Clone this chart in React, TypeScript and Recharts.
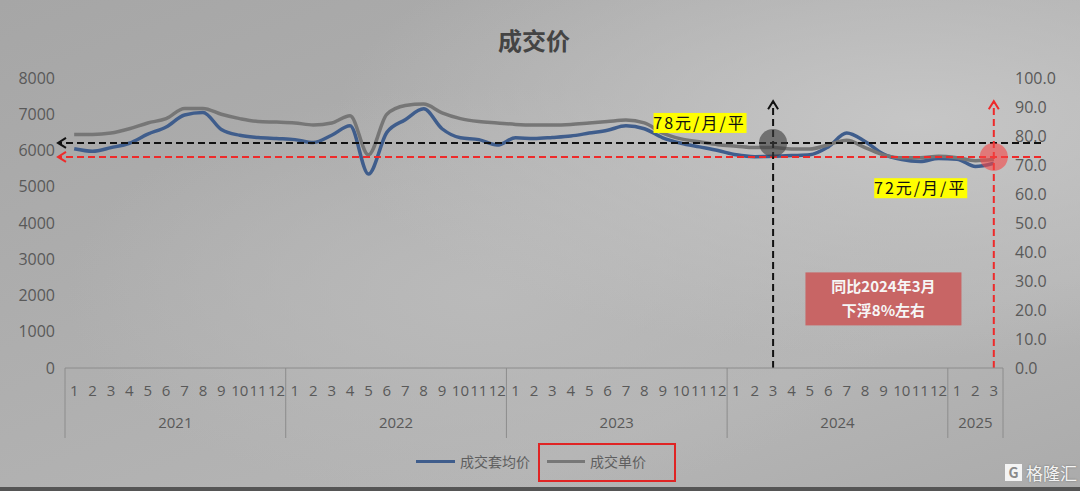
import React from 'react';
import { ComposedChart, Line, XAxis, YAxis, Legend, ReferenceLine, ReferenceDot } from 'recharts';

// months, 2021-01 .. 2025-03
const months = [
  '2021-01', '2021-02', '2021-03', '2021-04', '2021-05', '2021-06', '2021-07', '2021-08', '2021-09', '2021-10', '2021-11', '2021-12',
  '2022-01', '2022-02', '2022-03', '2022-04', '2022-05', '2022-06', '2022-07', '2022-08', '2022-09', '2022-10', '2022-11', '2022-12',
  '2023-01', '2023-02', '2023-03', '2023-04', '2023-05', '2023-06', '2023-07', '2023-08', '2023-09', '2023-10', '2023-11', '2023-12',
  '2024-01', '2024-02', '2024-03', '2024-04', '2024-05', '2024-06', '2024-07', '2024-08', '2024-09', '2024-10', '2024-11', '2024-12',
  '2025-01', '2025-02', '2025-03',
];

// 成交套均价 (left axis)
const avgPrice = [
  6050, 5980, 6080, 6200, 6450, 6650, 6980, 7050, 6580, 6420, 6360, 6330,
  6300, 6220, 6420, 6680, 5350, 6500, 6850, 7150, 6600, 6350, 6300, 6150,
  6350, 6330, 6360, 6400, 6480, 6560, 6680, 6600, 6350, 6200, 6100, 6000,
  5880, 5830, 5840, 5860, 5880, 6100, 6480, 6250, 5900, 5750, 5700, 5780,
  5760, 5560, 5650,
];

// 成交单价 (right axis)
const unitPrice = [
  80.5, 80.5, 81, 82.5, 84.5, 86, 89.5, 89.5, 87.5, 86, 85, 84.8,
  84.5, 83.8, 84.5, 87, 73.5, 87.5, 90.5, 91, 88, 86, 85, 84.5,
  84, 83.8, 83.8, 84, 84.5, 85, 85.5, 84.5, 81, 79, 78, 77,
  76.5, 76, 76, 75.5, 75.5, 77, 78.5, 76, 73.5, 72.5, 72.5, 73,
  72.5, 71.5, 72,
];

const leftTicks = [0, 1000, 2000, 3000, 4000, 5000, 6000, 7000, 8000];
const rightTicks = [0, 10, 20, 30, 40, 50, 60, 70, 80, 90, 100];

// annotations
const baseMonth = '2024-03';
const currentMonth = '2025-03';
const baseLevel = 77.6;
const currentLevel = 72.8;
const arrowTop = 92;

const data = months.map((m, i) => ({ month: m, avg: avgPrice[i], unit: unitPrice[i] }));

const W = 1080;
const H = 491;
const LEFT_W = 65;
const RIGHT_W = 77;
const PLOT_LEFT = LEFT_W;
const PLOT_RIGHT = W - RIGHT_W;
const BAND = (PLOT_RIGHT - PLOT_LEFT) / months.length;
const TXT = '#595959';
const FONT = "'Open Sans', 'Noto Sans CJK SC', sans-serif";

function MonthTick(props: any) {
  const { x, y, index } = props;
  const cat = months[index];
  const [yr, mo] = cat.split('-');
  const first = months.findIndex((c) => c.startsWith(yr));
  const count = months.filter((c) => c.startsWith(yr)).length;
  const left = x - BAND / 2;
  return (
    <g>
      <text x={x} y={y + 28} textAnchor="middle" fontSize={15} fill={TXT} fontFamily={FONT}>
        {Number(mo)}
      </text>
      {index === first && (
        <>
          <line x1={left} x2={left} y1={y} y2={y + 70} stroke="#8c8c8c" strokeWidth={1} />
          <text x={left + (count * BAND) / 2} y={y + 60} textAnchor="middle" fontSize={15} fill={TXT} fontFamily={FONT}>
            {yr}
          </text>
        </>
      )}
      {index === months.length - 1 && (
        <line x1={x + BAND / 2} x2={x + BAND / 2} y1={y} y2={y + 70} stroke="#8c8c8c" strokeWidth={1} />
      )}
    </g>
  );
}

const hArrow = (color: string) => (p: any) => {
  const y = p.y1;
  const left = Math.min(p.x1, p.x2) - 7;
  const right = Math.max(p.x1, p.x2) + 38;
  return (
    <g>
      <line x1={right} y1={y} x2={left + 2} y2={y} stroke={color} strokeWidth={2} strokeDasharray="7 4" />
      <polyline points={`${left + 8},${y - 5} ${left},${y} ${left + 8},${y + 5}`} fill="none" stroke={color} strokeWidth={2} />
    </g>
  );
};

const vArrow = (color: string) => (p: any) => {
  const x = p.x1;
  const top = Math.min(p.y1, p.y2);
  const bottom = Math.max(p.y1, p.y2);
  return (
    <g>
      <line x1={x} y1={bottom} x2={x} y2={top + 2} stroke={color} strokeWidth={2} strokeDasharray="7 4" />
      <polyline points={`${x - 5},${top + 8} ${x},${top} ${x + 5},${top + 8}`} fill="none" stroke={color} strokeWidth={2} />
    </g>
  );
};

const yellowTag = (text: string) => (p: any) => (
  <g>
    <rect x={p.cx - 46} y={p.cy - 10} width={93} height={20} fill="#ffff00" />
    <text x={p.cx} y={p.cy + 6} textAnchor="middle" fontSize={16} fill="#111" letterSpacing={2}
      fontFamily="'Noto Sans CJK SC', sans-serif">
      {text}
    </text>
  </g>
);

const noteBox = (p: any) => (
  <g>
    <rect x={p.cx - 78} y={p.cy - 26} width={156} height={53} fill="#c86565" />
    <text x={p.cx} y={p.cy - 6} textAnchor="middle" fontSize={15} fontWeight={700} fill="#f6f6f6"
      fontFamily="'Noto Sans CJK SC', sans-serif">
      同比2024年3月
    </text>
    <text x={p.cx} y={p.cy + 18} textAnchor="middle" fontSize={15} fontWeight={700} fill="#f6f6f6"
      fontFamily="'Noto Sans CJK SC', sans-serif">
      下浮8%左右
    </text>
  </g>
);

function LegendBox() {
  const label = { position: 'absolute' as const, fontSize: 14, color: '#5f5f5f', fontFamily: "'Noto Sans CJK SC', sans-serif", lineHeight: '20px' };
  return (
    <div style={{ position: 'relative', width: W, height: 52 }}>
      <div style={{ position: 'absolute', left: 416, top: 21, width: 39, height: 3, background: '#3f5d8c' }} />
      <div style={{ ...label, left: 460, top: 12 }}>成交套均价</div>
      <div style={{ position: 'absolute', left: 538, top: 4, width: 134, height: 35, border: '2px solid #e02424' }} />
      <div style={{ position: 'absolute', left: 547, top: 21, width: 38, height: 3, background: '#777' }} />
      <div style={{ ...label, left: 590, top: 12 }}>成交单价</div>
    </div>
  );
}

export default function App() {
  return (
    <div
      style={{
        position: 'absolute',
        left: 0,
        top: 0,
        width: W,
        height: H,
        overflow: 'hidden',
        background:
          'radial-gradient(ellipse at 85% 25%, #c6c6c6 0%, rgba(198,198,198,0) 45%), radial-gradient(ellipse at 45% 60%, #bababa 0%, rgba(186,186,186,0) 50%), linear-gradient(160deg, #a6a6a6 0%, #afafaf 45%, #b5b5b5 75%, #ababab 100%)',
      }}
    >
      <div
        style={{
          position: 'absolute',
          top: 22,
          left: 0,
          width: W - 12,
          textAlign: 'center',
          fontSize: 24,
          fontWeight: 700,
          color: '#444',
          fontFamily: "'Noto Sans CJK SC', sans-serif",
        }}
      >
        成交价
      </div>
      <ComposedChart width={W} height={H} data={data} margin={{ top: 78, right: 0, bottom: 0, left: 0 }}>
        <XAxis
          dataKey="month"
          interval={0}
          tickSize={0}
          tickMargin={0}
          height={71}
          padding={{ left: BAND / 2, right: BAND / 2 }}
          axisLine={{ stroke: '#8c8c8c' }}
          tickLine={false}
          tick={<MonthTick />}
        />
        <YAxis
          yAxisId="left"
          domain={[0, 8000]}
          ticks={leftTicks}
          width={LEFT_W}
          axisLine={false}
          tickLine={false}
          tickMargin={4}
          tick={{ fontSize: 16, fill: TXT, fontFamily: FONT }}
        />
        <YAxis
          yAxisId="right"
          orientation="right"
          domain={[0, 100]}
          ticks={rightTicks}
          width={RIGHT_W}
          axisLine={false}
          tickLine={false}
          tickMargin={6}
          tickFormatter={(v: number) => v.toFixed(1)}
          tick={{ fontSize: 16, fill: TXT, fontFamily: FONT, textAnchor: 'start' }}
        />
        <Legend verticalAlign="bottom" height={52} content={() => <LegendBox />} />
        <Line
          yAxisId="left"
          type="monotone"
          dataKey="avg"
          name="成交套均价"
          stroke="#3f5d8c"
          strokeWidth={3.5}
          dot={false}
          isAnimationActive={false}
        />
        <Line
          yAxisId="right"
          type="monotone"
          dataKey="unit"
          name="成交单价"
          stroke="#767676"
          strokeWidth={3.5}
          dot={false}
          isAnimationActive={false}
        />
        <ReferenceLine yAxisId="right" y={baseLevel} shape={hArrow('#111')} />
        <ReferenceLine yAxisId="right" y={currentLevel} shape={hArrow('#ee2a2a')} />
        <ReferenceLine
          yAxisId="right"
          segment={[{ x: baseMonth, y: 0 }, { x: baseMonth, y: arrowTop }]}
          shape={vArrow('#111')}
        />
        <ReferenceLine
          yAxisId="right"
          segment={[{ x: currentMonth, y: 0 }, { x: currentMonth, y: arrowTop }]}
          shape={vArrow('#ee2a2a')}
        />
        <ReferenceDot yAxisId="right" x={baseMonth} y={baseLevel} r={14} fill="rgba(60,60,60,0.6)" stroke="none" />
        <ReferenceDot yAxisId="right" x={currentMonth} y={currentLevel} r={14} fill="rgba(245,70,70,0.6)" stroke="none" />
        <ReferenceDot yAxisId="right" x="2023-11" y={84.5} r={1} shape={yellowTag('78元/月/平')} />
        <ReferenceDot yAxisId="right" x="2024-11" y={62} r={1} shape={yellowTag('72元/月/平')} />
        <ReferenceDot yAxisId="right" x="2024-09" y={24} r={1} shape={noteBox} />
      </ComposedChart>
      <div
        style={{
          position: 'absolute',
          left: 1005,
          top: 460,
          display: 'flex',
          alignItems: 'center',
          gap: 4,
          color: '#f4f4f4',
          fontSize: 17,
          fontFamily: "'Noto Sans CJK SC', sans-serif",
          textShadow: '0 0 2px #666',
        }}
      >
        <span style={{ display: 'inline-block', width: 17, height: 17, background: '#f4f4f4', color: '#8a8a8a', fontSize: 14, fontWeight: 700, lineHeight: '17px', textAlign: 'center', textShadow: 'none' }}>G</span>
        <span>格隆汇</span>
      </div>
      <div style={{ position: 'absolute', left: 0, top: H - 4, width: W, height: 4, background: '#555' }} />
    </div>
  );
}
